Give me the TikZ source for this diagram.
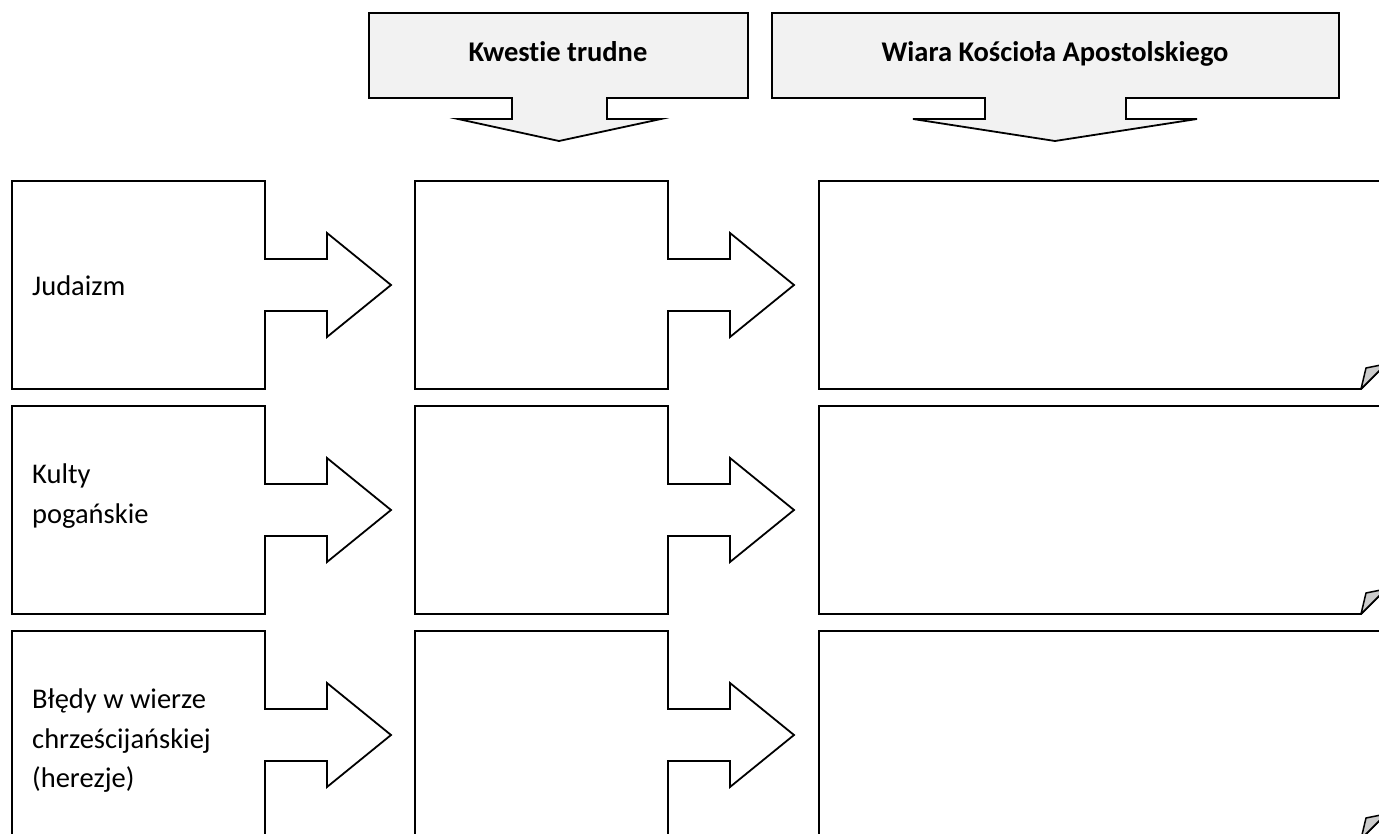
\documentclass[tikz,border=0pt]{standalone}
\usepackage{fontspec}
\setmainfont{Carlito}[Ligatures=NoCommon]
\usetikzlibrary{calc}

\tikzset{
  shp/.style={draw=black,line width=1.8pt,fill=white,line join=miter},
  titleshp/.style={shp,fill=black!5},
  foldshp/.style={draw=black,line width=1.5pt,fill=black!20,line join=round},
  lbl/.style={font=\fontsize{28.5}{39.5}\selectfont,align=left,anchor=west,inner sep=0pt},
  ttl/.style={font=\bfseries\fontsize{28.5}{39.5}\selectfont,anchor=base,inner sep=0pt},
}

\begin{document}
\begin{tikzpicture}[x=1pt,y=-1pt]
       \useasboundingbox(0,0)rectangle(1379,834);%画面
       \clip(0,0)rectangle(1379,834);

       %上の見出し(下向き矢印)
       \draw[titleshp](369,13)--(748,13)--(748,98)--(607,98)--(607,119)--(661,119)
           --(559,141)--(458,119)--(512,119)--(512,98)--(369,98)--cycle;
       \draw[titleshp](772,13)--(1339,13)--(1339,98)--(1126,98)--(1126,119)--(1197,119)
           --(1055,141)--(913,119)--(985,119)--(985,98)--(772,98)--cycle;
       \node[ttl](kwestie)at(558,62){Kwestie trudne};
       \node[ttl](wiara)at(1055,62){Wiara Kościoła Apostolskiego};

       %行 上端 / 中心
       \foreach \T in{181,406,631}{
           \pgfmathsetmacro{\B}{\T+208}
           \pgfmathsetmacro{\C}{\T+104}
           \foreach \L in{12,415}%右矢印付きの枠
               \draw[shp](\L,\T)--(\L+253,\T)--(\L+253,\C-26)--(\L+315,\C-26)
               --(\L+315,\C-52)--(\L+379,\C)--(\L+315,\C+52)--(\L+315,\C+26)
               --(\L+253,\C+26)--(\L+253,\B)--(\L,\B)--cycle;
           \draw[shp](819,\T)--(1386,\T)--(1386,\B-25)--(1361,\B)--(819,\B)--cycle;%右の枠
           \draw[foldshp](1361,\B)--(1366,\B-21)--(1386,\B-25)--cycle;%折り返し
       }

       \node[lbl](judaizm)at(32,286){Judaizm};
       \node[lbl](kulty)at(32,496){Kulty\\pogańskie};
       \node[lbl](bledy)at(32,741){Błędy w wierze\\chrześcijańskiej\\(herezje)};
\end{tikzpicture}
\end{document}
